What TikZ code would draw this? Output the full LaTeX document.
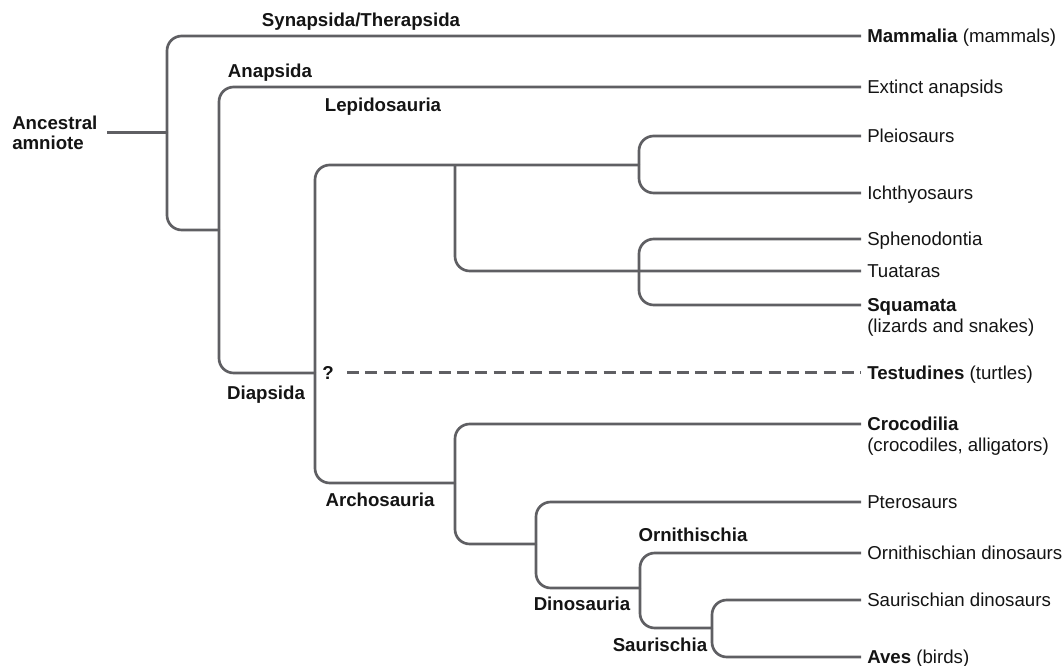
\documentclass[tikz,border=0pt]{standalone}
\usepackage{fontspec}
\setmainfont{Liberation Sans}
\definecolor{linegray}{RGB}{95,95,99}
\definecolor{txt}{RGB}{20,20,20}
\begin{document}
\begin{tikzpicture}[x=0.75pt,y=-0.75pt,
  branch/.style={draw=linegray, line width=2pt, rounded corners=11pt},
  straightbranch/.style={draw=linegray, line width=2.25pt},
  dashbranch/.style={draw=linegray, line width=2.25pt, dash pattern=on 9pt off 4.75pt},
  leaf/.style={anchor=base west, inner sep=0pt, font=\fontsize{14}{16.8}\selectfont, text=txt},
  clade/.style={anchor=base, inner sep=0pt, font=\fontsize{14}{16.8}\selectfont\bfseries, text=txt}]
\useasboundingbox (0,0) rectangle (1064,666);

% junctions
\coordinate (r0) at (107,133);
\coordinate (n1) at (167,133);
\coordinate (n2) at (219,230);
\coordinate (n3) at (315,373);
\coordinate (n4) at (455,165);
\coordinate (n5) at (639,165);
\coordinate (n6) at (639,271);
\coordinate (n7) at (455,483);
\coordinate (n8) at (536,544);
\coordinate (n9) at (640,588);
\coordinate (n10) at (712,628);
\coordinate (q) at (347,373);

% leaf ends
\coordinate (eMam) at (861,36);
\coordinate (eExt) at (861,87);
\coordinate (ePle) at (861,136);
\coordinate (eIch) at (861,193);
\coordinate (eSph) at (861,239);
\coordinate (eTua) at (861,271);
\coordinate (eSqu) at (861,305);
\coordinate (eTes) at (861,373);
\coordinate (eCro) at (861,424);
\coordinate (ePte) at (861,502);
\coordinate (eOrn) at (861,553);
\coordinate (eSau) at (861,600);
\coordinate (eAve) at (861,657);

% branches
\draw[straightbranch] (r0) -- (n1);
\draw[branch] (n1) |- (eMam);
\draw[branch] (n1) |- (n2);
\draw[branch] (n2) |- (eExt);
\draw[branch] (n2) |- (n3);
\draw[branch] (n3) |- (n5);
\draw[branch] (n4) |- (n6) -- (eTua);
\draw[branch] (n5) |- (ePle);
\draw[branch] (n5) |- (eIch);
\draw[branch] (n6) |- (eSph);
\draw[branch] (n6) |- (eSqu);
\draw[dashbranch] (q) -- (eTes);
\draw[branch] (n3) |- (n7);
\draw[branch] (n7) |- (eCro);
\draw[branch] (n7) |- (n8);
\draw[branch] (n8) |- (ePte);
\draw[branch] (n8) |- (n9);
\draw[branch] (n9) |- (eOrn);
\draw[branch] (n9) |- (n10);
\draw[branch] (n10) |- (eSau);
\draw[branch] (n10) |- (eAve);

% leaf labels
\node[leaf] (tMam) at (867,42.7) {\textbf{Mammalia} (mammals)};
\node[leaf] (tExt) at (867,93.7) {Extinct anapsids};
\node[leaf] (tPle) at (867,142.7) {Pleiosaurs};
\node[leaf] (tIch) at (867,199.7) {Ichthyosaurs};
\node[leaf] (tSph) at (867,245.7) {Sphenodontia};
\node[leaf] (tTua) at (867,277.7) {Tuataras};
\node[leaf] (tSqu) at (867,311.7) {\textbf{Squamata}};
\node[leaf] (tSqu2) at (867,332.5) {(lizards and snakes)};
\node[leaf] (tTes) at (867,379.7) {\textbf{Testudines} (turtles)};
\node[leaf] (tCro) at (867,430.7) {\textbf{Crocodilia}};
\node[leaf] (tCro2) at (867,451.5) {(crocodiles, alligators)};
\node[leaf] (tPte) at (867,508.7) {Pterosaurs};
\node[leaf] (tOrn) at (867,559.7) {Ornithischian dinosaurs};
\node[leaf] (tSau) at (867,606.7) {Saurischian dinosaurs};
\node[leaf] (tAve) at (867,663.7) {\textbf{Aves} (birds)};

% clade labels
\node[leaf, font=\fontsize{14}{16.8}\selectfont\bfseries] (anc1) at (12,129.5) {Ancestral};
\node[leaf, font=\fontsize{14}{16.8}\selectfont\bfseries] (anc2) at (12,149.5) {amniote};
\node[clade] (lSyn) at (361,26.7) {Synapsida/Therapsida};
\node[clade] (lAna) at (270,77.7) {Anapsida};
\node[clade] (lLep) at (383,111.7) {Lepidosauria};
\node[clade] (lDia) at (266,399.7) {Diapsida};
\node[clade] (lQ) at (328,379.7) {?};
\node[clade] (lArc) at (380,506.7) {Archosauria};
\node[clade] (lOrn) at (693,541.7) {Ornithischia};
\node[clade] (lDin) at (582,610.7) {Dinosauria};
\node[clade] (lSau) at (660,651.7) {Saurischia};
\end{tikzpicture}
\end{document}
